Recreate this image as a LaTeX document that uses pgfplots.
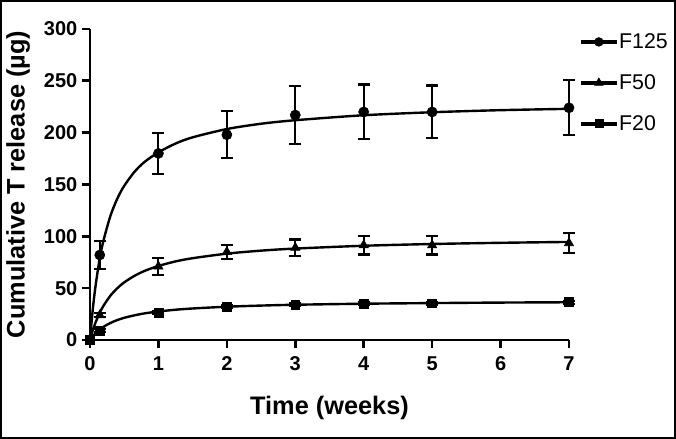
\documentclass[border=0pt]{standalone}
\usepackage{fontspec}
\setmainfont{Liberation Sans}
\usepackage{pgfplots}
\usepackage{pgfplotstable}
\pgfplotsset{compat=1.18}

% measured marker data: x (weeks), y, err
\pgfplotstableread{
x y e
0 0 0
0.142857 82 13.5
1 180 20
2 198 22.5
3 217 28
4 220 26.5
5 220 25.5
7 224 26.5
}\Fa
\pgfplotstableread{
x y e
0 0 0
0.142857 24 2
1 71 8
2 85 7
3 89 8
4 91.5 9
5 91.5 9
7 93.5 9.5
}\Fb
\pgfplotstableread{
x y e
0 0 0
0.142857 9 1.5
1 26.5 1.5
2 32 1.5
3 34 1.5
4 35 1.5
5 35.5 1.5
7 36.5 1.5
}\Fc
% fitted curves
\pgfplotstableread{
x y
0 0
0.04 29
0.08 51.6
0.142857 79
0.2 96.7
0.3 120
0.4 136.5
0.5 148.7
0.65 162.2
0.8 171.9
1 181
1.25 189.5
1.5 195.5
2 203.5
2.5 208.6
3 212
4 216.8
5 219.7
6 221.7
7 223
}\Ca
\pgfplotstableread{
x y
0 0
0.04 9.1
0.08 16.7
0.142857 26.3
0.2 33.3
0.3 42.9
0.4 50
0.5 55.6
0.65 61.9
0.8 66.7
1 71.4
1.25 75.8
1.5 78.9
2 83.3
2.5 86.2
3 88.2
4 90.9
5 92.6
6 93.75
7 94.6
}\Cb
\pgfplotstableread{
x y
0 0
0.04 3.5
0.08 6.4
0.142857 10.1
0.2 12.8
0.3 16.5
0.4 19.25
0.5 21.4
0.65 23.8
0.8 25.7
1 27.5
1.25 29.2
1.5 30.4
2 32.1
2.5 33.2
3 34.0
4 35
5 35.6
6 36.1
7 36.4
}\Cc

\begin{document}
\begin{tikzpicture}
\useasboundingbox (0,0) rectangle (507pt,329.25pt);
\draw[line width=1.5pt] (0.75pt,0.75pt) rectangle (506.25pt,328.5pt);
\begin{axis}[
  at={(67.5pt,74.25pt)}, anchor=south west,
  scale only axis, width=359.25pt, height=233.25pt,
  xmin=0, xmax=7, ymin=0, ymax=300,
  axis x line=bottom, axis y line=left,
  axis line style={-, line width=2.2pt},
  xtick={0,1,...,7}, ytick={0,50,...,300},
  tick align=outside, major tick length=6pt,
  tick style={line width=2pt, black},
  /pgf/number format/assume math mode=true,
  ticklabel style={font=\fontsize{15}{15}\selectfont\bfseries},
  xticklabel style={yshift=-3pt},
  xlabel={Time (weeks)},
  ylabel={Cumulative T release (µg)},
  every axis x label/.style={at={(axis description cs:0.5,-0.219)}, anchor=center,
    font=\fontsize{19}{19}\selectfont\bfseries},
  every axis y label/.style={at={(axis description cs:-0.150,0.5)}, rotate=90, anchor=center,
    font=\fontsize{19}{19}\selectfont\bfseries},
  clip=false,
  legend style={at={(axis description cs:1.025,0.995)}, anchor=north west,
    draw=none, fill=none, font=\fontsize{16}{16}\selectfont, row sep=14pt,
    inner sep=0pt},
  legend cell align=left,
  legend image code/.code={
    \fill[black] (0pt,-1.1pt) rectangle (26pt,1.1pt);
    \draw[#1, only marks, line width=0.4pt] plot coordinates {(13pt,0pt)};
  },
]
% curves
\addplot[black, line width=1.8pt, smooth, forget plot] table[x=x,y=y] {\Ca};
\addplot[black, line width=1.8pt, smooth, forget plot] table[x=x,y=y] {\Cb};
\addplot[black, line width=1.8pt, smooth, forget plot] table[x=x,y=y] {\Cc};
% markers with error bars
\addplot[black, only marks, mark=*, mark size=3.8pt, forget plot,
  error bars/.cd, y dir=both, y explicit,
  error bar style={line width=1.6pt},
  error mark options={line width=1.6pt, mark size=4.5pt, rotate=90}]
  table[x=x,y=y,y error=e] {\Fa};
\addplot[black, only marks, mark=triangle*, mark size=4pt, forget plot,
  error bars/.cd, y dir=both, y explicit,
  error bar style={line width=1.6pt},
  error mark options={line width=1.6pt, mark size=4.5pt, rotate=90}]
  table[x=x,y=y,y error=e] {\Fb};
\addplot[black, only marks, mark=square*, mark size=3.3pt, forget plot,
  error bars/.cd, y dir=both, y explicit,
  error bar style={line width=1.6pt},
  error mark options={line width=1.6pt, mark size=4.5pt, rotate=90}]
  table[x=x,y=y,y error=e] {\Fc};
\addlegendimage{black, mark=*, mark size=3.3pt}
\addlegendentry{F125}
\addlegendimage{black, mark=triangle*, mark size=3.7pt}
\addlegendentry{F50}
\addlegendimage{black, mark=square*, mark size=3pt}
\addlegendentry{F20}
\end{axis}
\end{tikzpicture}
\end{document}
